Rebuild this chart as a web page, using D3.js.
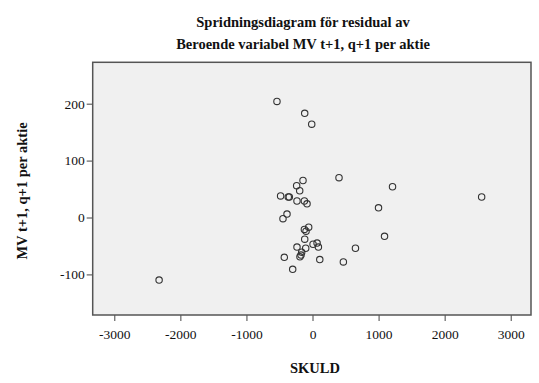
<!DOCTYPE html>
<html>
<head>
<meta charset="utf-8">
<script src="https://cdn.jsdelivr.net/npm/d3@7"></script>
<style>
  body { margin: 0; background: #fff; }
  text { font-family: "Liberation Serif", "DejaVu Serif", serif; fill: #111; }
</style>
</head>
<body>
<div id="chart"></div>
<script>
// residual scatter, SKULD vs MV
const skuld = [-538, -118, -12, 401, -144, -240, -194, 1211, -483, -367, -351, -235, -123, -83,
  2560, 999, -386, -447, -58, -123, -98, -118, 1090, 69, 8, 89, -235, -103, 650, -164, -174,
  -190, -427, 110, 467, -300, -2322];
const mv = [204, 183, 164, 70, 65, 56, 47, 54, 38, 36, 36, 29, 29, 24,
  36, 17, 6, -2, -17, -21, -24, -38, -33, -45, -47, -52, -52, -54, -54, -61, -66,
  -69, -70, -74, -78, -91, -110];
const xTicks = [-3000, -2000, -1000, 0, 1000, 2000, 3000];
const yTicks = [-100, 0, 100, 200];
const titleLines = ['Spridningsdiagram för residual av', 'Beroende variabel MV t+1, q+1 per aktie'];

const W = 539, H = 383;
const margin = {top: 62.3, right: 8, bottom: 68, left: 92.7};
const width = W - margin.left - margin.right;
const height = H - margin.top - margin.bottom;

const svg = d3.select('#chart').append('svg')
  .attr('width', W)
  .attr('height', H);

const g = svg.append('g')
  .attr('transform', `translate(${margin.left},${margin.top})`);

const x = d3.scaleLinear().domain([-3327, 3307]).range([0, width]);
const y = d3.scaleLinear().domain([-171.3, 272.7]).range([height, 0]);

g.append('rect')
  .attr('width', width)
  .attr('height', height)
  .attr('fill', '#f0f0f0');

const xAxis = g.append('g')
  .attr('transform', `translate(0,${height})`)
  .call(d3.axisBottom(x).tickValues(xTicks).tickSize(6).tickPadding(5).tickFormat(d => String(d)));
const yAxis = g.append('g')
  .call(d3.axisLeft(y).tickValues(yTicks).tickSize(6).tickPadding(2).tickFormat(d => String(d)));

[xAxis, yAxis].forEach(a => {
  a.attr('font-family', null);
  a.select('.domain').remove();
  a.selectAll('line').attr('stroke', '#444');
  a.selectAll('text')
    .style('font-family', '"Liberation Serif", serif')
    .style('font-size', '13.5px')
    .attr('fill', '#111');
});
xAxis.selectAll('text').attr('dy', '0.95em');

g.append('rect')
  .attr('width', width)
  .attr('height', height)
  .attr('fill', 'none')
  .attr('stroke', '#555')
  .attr('stroke-width', 1.5);

g.selectAll('circle')
  .data(skuld.map((s, i) => ({s, m: mv[i]})))
  .enter().append('circle')
  .attr('cx', d => x(d.s))
  .attr('cy', d => y(d.m))
  .attr('r', 3.2)
  .attr('fill', 'none')
  .attr('stroke', '#333')
  .attr('stroke-width', 1.1);

svg.selectAll('.title')
  .data(titleLines)
  .enter().append('text')
  .attr('class', 'title')
  .attr('x', 303)
  .attr('y', (d, i) => 27 + i * 22)
  .attr('text-anchor', 'middle')
  .style('font-size', '14.5px')
  .style('font-weight', 'bold')
  .text(d => d);

svg.append('text')
  .attr('x', 315)
  .attr('y', 373)
  .attr('text-anchor', 'middle')
  .style('font-size', '14.5px')
  .style('font-weight', 'bold')
  .text('SKULD');

svg.append('text')
  .attr('transform', 'translate(27,191) rotate(-90)')
  .attr('text-anchor', 'middle')
  .style('font-size', '14.5px')
  .style('font-weight', 'bold')
  .text('MV t+1, q+1 per aktie');
</script>
</body>
</html>
